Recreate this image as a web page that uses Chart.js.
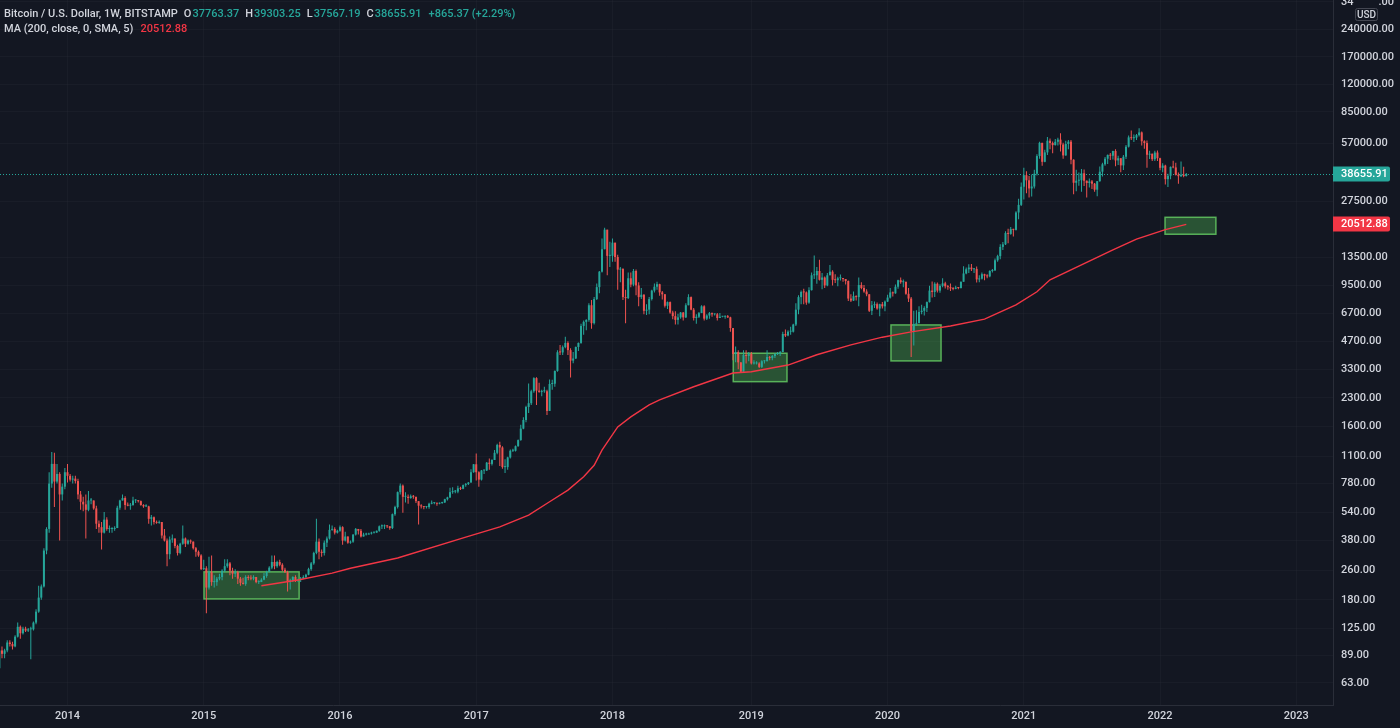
<!DOCTYPE html>
<html>
<head>
<meta charset="utf-8">
<script src="https://cdn.jsdelivr.net/npm/chart.js@4.4.1/dist/chart.umd.min.js"></script>
<style>
html,body{margin:0;padding:0;background:#131722;overflow:hidden;}
#wrap{position:relative;width:1400px;height:728px;}
canvas{display:block;}
</style>
</head>
<body>
<div id="wrap"><canvas id="c" width="1400" height="728"></canvas></div>
<script>
// ---------- DATA (weekly candles, Bitstamp BTC/USD) ----------
const startWeek = '2013-07-08';
const firstOpen = 76;

const closes = [
// 2013
95,91,95,105,103,100,113,128,118,125,122,124,124,
135,155,185,213,335,440,780,1000,800,880,680,750,900,
// 2014
860,820,830,805,680,620,600,560,630,630,570,470,450,
420,495,440,440,440,445,575,630,650,595,590,595,630,
630,625,595,585,585,500,510,480,475,480,405,380,320,
385,390,355,325,365,390,365,380,375,345,330,315,265,
// 2015
268,210,255,225,225,235,240,260,275,285,260,250,255,
235,223,220,240,237,235,240,225,225,232,243,256,270,
290,275,290,280,263,255,227,230,240,230,231,235,240,
247,265,285,325,375,330,325,370,390,435,440,420,430,
// 2016
450,380,400,370,375,410,440,430,400,410,410,415,420,
420,430,455,455,460,455,445,530,580,700,760,660,660,
650,665,660,625,590,585,580,580,605,610,610,605,610,
615,640,655,700,705,705,735,730,765,775,790,900,995,
// 2017
900,820,920,920,1015,1000,1050,1150,1270,1230,960,960,1085,
1180,1180,1250,1350,1560,1740,2050,2150,2500,2950,2520,2480,2500,
2500,1950,2740,2750,3230,4090,4080,4360,4600,4200,3680,3780,4370,
4600,5700,6000,6150,7400,5900,8000,9300,11300,15000,19200,13800,13800,
// 2018
16300,13600,11600,11700,8200,8100,10400,9600,11400,9500,8200,8450,6900,
7000,8000,8900,9350,9650,8700,8500,7350,7700,6750,6450,6150,6350,
6750,6350,7400,8200,7000,6300,6400,6700,7300,6250,6500,6700,6600,
6600,6300,6400,6400,6450,6350,5550,4000,4100,3600,3200,3950,3900,
// 2019
4000,3550,3550,3550,3400,3650,3650,3850,3800,3900,4000,4000,4100,
5150,5050,5300,5300,5800,7000,8200,8750,8700,7650,8950,10800,10800,
11400,10200,10500,9500,10800,11300,10200,10150,10400,10400,10300,10050,8050,
7850,8300,8200,9550,9200,8800,8500,6900,7400,7500,7100,7500,7300,
// 2020
7750,8150,8700,8600,9350,10150,9900,9950,8550,8050,5350,5850,5900,
6800,6900,7150,7700,8900,8750,9700,8900,9450,9750,9400,9300,9150,
9100,9250,9200,9950,11050,11650,11900,11650,11700,10250,10350,10950,10750,
10650,11400,11500,13050,13750,15450,15950,18400,18200,19350,19150,23850,26250,
// 2021
33000,38200,35800,32300,33100,38900,48600,57400,45200,50900,59000,57300,55800,
58200,59800,56200,49000,56600,58300,46400,34700,35600,35800,39100,35600,34600,
35300,34300,31800,35400,39900,43800,47000,49300,48800,51800,46000,47300,43200,
48200,54700,61500,60900,61300,63300,65500,58600,57300,49400,50100,46700,50800,
// 2022
47300,41900,43100,36300,37900,42400,42100,38400,37700,38400,37790.54,38655.91
];

const highs = [
// 2013
98,100,97,108,108,106,115,135,130,128,128,126,128,
137,160,215,218,345,450,900,1163,1150,1000,900,780,950,
// 2014
1000,880,860,860,830,710,660,680,710,650,630,590,490,
480,545,510,460,450,455,590,635,680,665,615,610,660,
640,630,630,600,600,590,525,515,490,490,480,440,390,
400,410,390,360,370,460,395,385,385,375,350,335,320,
// 2015
298,275,310,315,245,240,250,265,300,300,290,270,265,
260,240,238,245,245,245,245,240,230,236,252,260,275,
315,315,295,298,285,270,260,235,242,245,235,240,245,
250,270,290,330,500,390,340,380,400,465,460,450,435,
// 2016
460,455,425,400,380,412,445,440,440,420,420,420,425,
425,432,460,465,465,460,455,535,590,705,780,770,700,
680,680,675,660,625,600,585,585,612,630,612,612,615,
620,645,660,740,745,720,760,750,770,785,795,935,1000,
// 2017
1140,910,925,930,1025,1070,1060,1190,1290,1320,1250,1060,1095,
1200,1210,1260,1360,1640,1800,2080,2760,2550,2980,2980,2780,2550,
2650,2550,2900,2890,3250,4200,4480,4450,4980,4700,4300,4100,4400,
4620,5850,6100,6200,7600,7900,8200,9750,11400,17200,19700,19200,16500,
// 2018
17200,16300,14000,12000,11800,9000,11200,11200,11700,11600,9900,9200,8500,
7500,8200,9000,9750,9950,9700,8850,8500,7750,7750,6900,6850,6650,
6800,6800,7600,8500,8250,7150,6600,6800,7400,7400,6600,6800,6750,
6650,6700,6700,6450,6500,6550,6400,5550,4400,4200,3600,4200,4200,
// 2019
4100,4100,3700,3650,3600,3700,3700,4200,3900,3950,4050,4100,4150,
5300,5450,5400,5650,5850,7600,8400,8900,9100,8800,9300,11200,13850,
12000,13150,11100,10650,11100,12300,11500,10950,10600,10900,10450,10300,10100,
8500,8800,8400,10500,9900,9550,9050,8500,7800,7750,7650,7550,7700,
// 2020
7850,8450,9200,8800,9600,10200,10500,10250,9950,9200,8200,6900,6950,
7300,7450,7300,7750,9450,10000,9900,9850,9650,10400,9950,9550,9750,
9300,9450,9300,9980,12100,11900,12400,12450,11800,12050,10800,11200,11000,
10950,11500,11700,13350,14000,15950,16450,18800,19450,19850,19400,24250,28400,
// 2021
34800,41950,40100,37850,38500,40950,49700,58300,57500,52600,61800,60600,58400,
60200,61300,64900,57500,58900,59500,59600,46700,40900,39500,41300,41000,35700,
36600,35900,34600,35500,42600,44700,48100,49500,50500,51900,52900,48800,47300,
49200,55800,62900,67000,63700,64300,69000,66300,59300,59100,51900,50100,52000,
// 2022
52100,47600,44400,43500,38900,42600,45800,44700,39500,45400,42500,39303.25
];

const lows = [
// 2013
73,86,86,93,100,96,99,112,110,116,120,120,85,
122,132,153,180,210,320,420,740,580,780,380,630,725,
// 2014
790,800,780,780,640,560,550,390,550,600,560,440,420,
340,415,430,420,420,430,445,560,630,560,585,560,590,
610,615,590,575,580,470,460,465,470,470,390,375,275,
300,370,345,315,320,360,350,360,365,340,310,310,262,
// 2015
262,152,205,215,210,215,230,230,255,270,245,235,240,
220,215,218,215,230,230,230,222,220,225,230,238,255,
265,265,270,275,258,252,200,205,225,225,225,225,235,
235,245,260,280,320,300,310,315,350,385,430,410,415,
// 2016
425,360,375,365,365,370,405,410,395,400,405,410,410,
415,420,425,440,440,445,435,440,520,570,680,540,615,
605,645,645,610,465,570,565,570,568,600,600,590,600,
605,610,630,650,685,690,690,720,725,750,765,790,895,
// 2017
810,750,810,880,915,930,980,1050,1130,975,940,890,930,
1070,1160,1170,1240,1340,1550,1690,1900,2100,2450,2100,2450,2350,
2450,1850,1950,2550,2650,3200,3950,3950,4300,3950,2970,3560,3750,
4150,4550,5100,5400,6000,5500,5800,7900,8600,11200,15000,10800,12000,
// 2018
12800,12800,9000,9900,7900,5900,8000,9300,9400,8400,7300,8000,6600,
6550,6600,7850,8700,9000,8350,7950,7200,7050,6650,6200,5800,5800,
6250,6100,6300,7400,6950,6100,5850,6300,6700,6100,6150,6250,6400,
6500,6100,6300,6350,6250,6300,5300,3700,3600,3300,3150,3200,3550,
// 2019
3650,3500,3500,3500,3350,3350,3550,3650,3700,3700,3800,3950,3900,
4100,4950,5000,5100,5250,5700,6600,7500,7500,7450,7550,8900,10300,
9700,10100,9050,9200,9400,10800,9500,9800,9400,10100,9950,9600,7800,
7700,7800,7850,7300,9050,8650,8300,6800,6550,7150,7000,6450,7100,
// 2020
6850,7700,8050,8250,8550,9100,9700,9300,8450,7700,3850,4450,5700,
5900,6600,6500,6800,7650,8150,8200,8700,8650,9300,9150,9000,8850,
8950,9050,9050,9150,9950,10950,11100,11400,11100,9850,9900,10250,10150,
10400,10550,11200,11400,12800,13200,14850,15800,16200,18000,17600,19000,21900,
// 2021
25900,28100,30400,28800,29200,32300,38000,47000,43000,45000,49300,53000,50400,
55600,55500,51500,47000,48800,53000,43800,30000,31200,33400,31000,33300,28800,
32700,32100,31000,29300,35200,37600,43000,43900,46300,46500,42800,43400,39600,
40800,46900,54200,59500,58000,59500,62300,55600,53300,42000,46800,45600,45600,
// 2022
45700,40600,39600,34000,32900,36300,41700,38000,34300,37300,37200,37567.19
];

// 200-week SMA (offset 5): week index -> value
const maIndex  = [100,114,127,134,152,178,191,202,210,217,223,227,230,236,241,248,252,265,280,287,301,312,325,337,348,363,376,388,396,401,425,434,445,453];
const maValues = [215,231,252,268,305,397,452,524,620,718,850,983,1190,1594,1808,2104,2240,2646,3145,3200,3480,3963,4485,4945,5287,5698,6212,7430,8770,10200,14870,17050,19200,20512.88];

const priceTicks = [63,89,125,180,260,380,540,780,1100,1600,2300,3300,4700,6700,9500,13500,27500,57000,85000,120000,170000,240000,340000];
const yearLabels = ['2014','2015','2016','2017','2018','2019','2020','2021','2022','2023'];

// highlighted zones: [from week, to week, low price, high price]
const zoneFrom = [78.1, 280.1, 340.3, 444.9];
const zoneTo   = [114.4, 300.6, 359.4, 464.3];
const zoneLow  = [182, 2822, 3667, 18130];
const zoneHigh = [256, 4038, 5771, 22440];

const legendTitle = 'Bitcoin / U.S. Dollar, 1W, BITSTAMP';
const legendOHLC = [['O','37763.37'],['H','39303.25'],['L','37567.19'],['C','38655.91']];
const legendChange = '+865.37 (+2.29%)';
const maLabel = 'MA (200, close, 0, SMA, 5)';

// ---------- STYLE ----------
const UP = '#26a69a', DOWN = '#ef5350', MA_COLOR = '#f23645';
const TEXT = '#d1d4dc', BG = '#131722', AXIS_LINE = '#2a2e39', GRID = 'rgba(42,46,57,0.28)';
const FONT = "Roboto, 'Liberation Sans', sans-serif";

// ---------- BUILD ----------
const n = closes.length;
const opens = closes.map((c, i) => i === 0 ? firstOpen : closes[i - 1]);
const colors = closes.map((c, i) => c >= opens[i] ? UP : DOWN);
const bodyData = closes.map((c, i) => ({x: i, y: [opens[i], c]}));
const wickData = closes.map((c, i) => ({x: i, y: [Math.min(lows[i], opens[i], c), Math.max(highs[i], opens[i], c)]}));
const maData = maIndex.map((x, k) => ({x: x, y: maValues[k]}));

const yearTicks = [];
(function () {
  const d0 = Date.parse(startWeek + 'T00:00:00Z');
  let prev = new Date(d0).getUTCFullYear();
  for (let k = 0; k < 560; k++) {
    const yr = new Date(d0 + k * 7 * 864e5).getUTCFullYear();
    if (yr !== prev) {
      if (yearLabels.includes(String(yr))) yearTicks.push({value: k, label: String(yr)});
      prev = yr;
    }
  }
})();

const overlay = {
  id: 'overlay',
  beforeDraw(chart) {
    const c = chart.ctx;
    c.save(); c.fillStyle = BG; c.fillRect(0, 0, chart.width, chart.height); c.restore();
  },
  beforeDatasetsDraw(chart) {
    const {ctx, chartArea: a, scales: {x, y}} = chart;
    ctx.save();
    ctx.beginPath(); ctx.rect(a.left, a.top, a.right - a.left, a.bottom - a.top); ctx.clip();
    for (let k = 0; k < zoneFrom.length; k++) {
      const x0 = x.getPixelForValue(zoneFrom[k]), x1 = x.getPixelForValue(zoneTo[k]);
      const y0 = y.getPixelForValue(zoneHigh[k]), y1 = y.getPixelForValue(zoneLow[k]);
      ctx.fillStyle = 'rgba(76,175,80,0.40)';
      ctx.fillRect(x0, y0, x1 - x0, y1 - y0);
      ctx.strokeStyle = 'rgba(92,184,92,0.95)';
      ctx.lineWidth = 1.5;
      ctx.strokeRect(x0, y0, x1 - x0, y1 - y0);
    }
    const py = Math.round(y.getPixelForValue(closes[n - 1])) + 0.5;
    ctx.setLineDash([1, 2]);
    ctx.strokeStyle = UP; ctx.lineWidth = 1;
    ctx.beginPath(); ctx.moveTo(a.left, py); ctx.lineTo(a.right, py); ctx.stroke();
    ctx.restore();
  },
  afterDraw(chart) {
    const {ctx, chartArea: a, scales: {y}} = chart;
    ctx.save();
    // legend
    ctx.font = '500 11px ' + FONT;
    ctx.textBaseline = 'alphabetic';
    ctx.textAlign = 'left';
    let cx = 4;
    const put = (txt, col, anchor, gap) => {
      const xx = Math.max(anchor, cx + gap);
      ctx.fillStyle = col; ctx.fillText(txt, xx, 17);
      cx = xx + ctx.measureText(txt).width;
    };
    put(legendTitle, TEXT, 4, 0);
    const anchors = [[180, 189], [236, 243], [293, 299], [352, 359]];
    legendOHLC.forEach((p, k) => { put(p[0], TEXT, anchors[k][0], 6); put(p[1], UP, anchors[k][1], 1); });
    put(legendChange, UP, 405, 7);
    ctx.fillStyle = TEXT; ctx.fillText(maLabel, 4, 32);
    const mw = ctx.measureText(maLabel).width;
    ctx.fillStyle = MA_COLOR; ctx.fillText(maValues[maValues.length - 1].toFixed(2), Math.max(136, 4 + mw + 7), 32);

    // price tags on the axis
    const tag = (val, col) => {
      const ty = y.getPixelForValue(val);
      ctx.fillStyle = col;
      ctx.beginPath();
      ctx.roundRect(a.right, Math.round(ty) - 7.5, 57, 15, [0, 2, 2, 0]);
      ctx.fill();
      ctx.fillStyle = '#ffffff';
      ctx.font = '500 11px ' + FONT;
      ctx.textBaseline = 'middle';
      ctx.fillText(val.toFixed(2), a.right + 8, Math.round(ty) + 0.5);
    };
    tag(closes[n - 1], UP);
    tag(maValues[maValues.length - 1], MA_COLOR);

    // USD box (covers the middle of the clipped top tick label, as in the reference)
    ctx.fillStyle = BG;
    ctx.fillRect(1354, 0, 24, 21);
    ctx.strokeStyle = '#434651';
    ctx.lineWidth = 1;
    ctx.beginPath(); ctx.roundRect(1355.5, 8.5, 22, 12, 2); ctx.fill(); ctx.stroke();
    ctx.fillStyle = TEXT;
    ctx.font = '500 10px ' + FONT;
    ctx.textAlign = 'center'; ctx.textBaseline = 'middle';
    ctx.fillText('USD', 1366.5, 15);
    ctx.restore();
  }
};

new Chart(document.getElementById('c'), {
  type: 'bar',
  data: {
    datasets: [
      {type: 'line', data: maData, borderColor: MA_COLOR, borderWidth: 1.4, pointRadius: 0, tension: 0, order: 0},
      {data: wickData, backgroundColor: colors, barThickness: 1, grouped: false, inflateAmount: 0, order: 2},
      {data: bodyData, backgroundColor: colors, barThickness: 2, grouped: false, inflateAmount: 0, minBarLength: 1, order: 1}
    ]
  },
  options: {
    responsive: false,
    animation: false,
    devicePixelRatio: 1,
    events: [],
    layout: {padding: 0},
    plugins: {legend: {display: false}, tooltip: {enabled: false}},
    scales: {
      x: {
        type: 'linear', min: 0.24, max: 509, offset: false,
        grid: {color: GRID, drawTicks: false, offset: false},
        border: {color: AXIS_LINE, width: 1},
        ticks: {
          color: TEXT, font: {family: FONT, size: 11, weight: '500'}, padding: 5, maxRotation: 0, autoSkip: false,
          callback: (v) => { const t = yearTicks.find(t => t.value === v); return t ? t.label : ''; }
        },
        afterBuildTicks: (s) => { s.ticks = yearTicks.map(t => ({value: t.value})); },
        afterFit: (s) => { s.height = 23; s.paddingLeft = 0; s.paddingRight = 0; s.paddingTop = 0; s.paddingBottom = 0; }
      },
      y: {
        type: 'logarithmic', position: 'right', min: 47.73, max: 348150,
        grid: {color: GRID, drawTicks: false},
        border: {color: AXIS_LINE, width: 1},
        ticks: {
          color: TEXT, font: {family: FONT, size: 11, weight: '500'}, padding: 8, crossAlign: 'near', autoSkip: false,
          callback: (v) => Number(v).toFixed(2)
        },
        afterBuildTicks: (s) => { s.ticks = priceTicks.map(v => ({value: v})); },
        afterFit: (s) => { s.width = 67; s.paddingTop = 0; s.paddingBottom = 0; s.paddingLeft = 0; s.paddingRight = 0; }
      }
    }
  },
  plugins: [overlay]
});
</script>
</body>
</html>
